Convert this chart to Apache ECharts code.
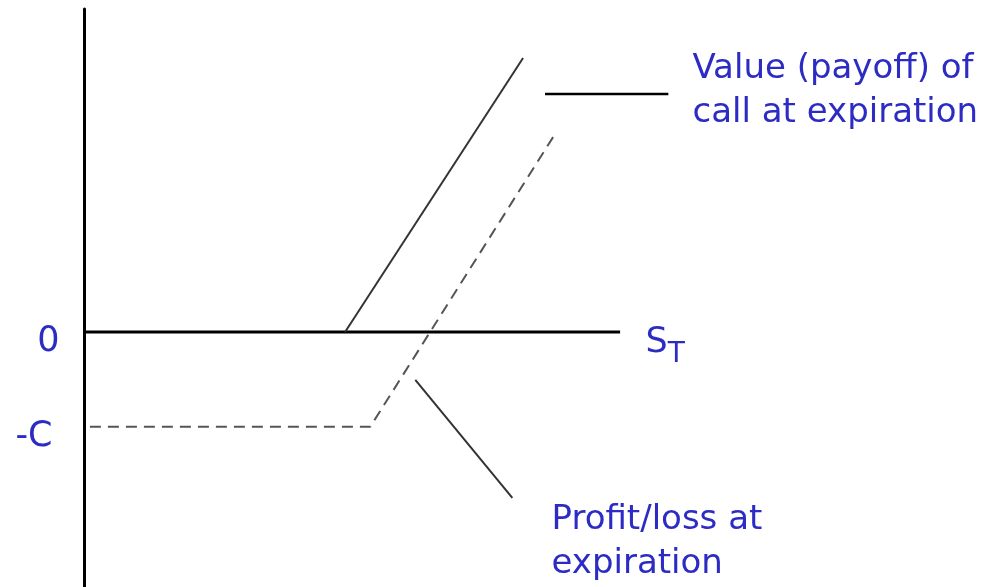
<!DOCTYPE html>
<html>
<head>
<meta charset="utf-8">
<script src="https://cdn.jsdelivr.net/npm/echarts@6/dist/echarts.min.js"></script>
<style>
  html, body { margin: 0; padding: 0; background: #fff; }
  #chart { width: 990px; height: 587px; }
</style>
</head>
<body>
<div id="chart"></div>
<script>
// stock price at expiration (x) and value (y)
const payoffS = [48.7, 81.9];
const payoffV = [0, 50.9];
const profitS = [1.1, 53.4, 87.5];
const profitV = [-17.6, -17.6, 36.2];

// horizontal S_T axis, drawn from 0 to its end
const stAxisS = [0, 100];
const stAxisV = [0, 0];

// leader lines pointing at the two curves
const payoffLeaderS = [86.0, 109.0];
const payoffLeaderV = [44.2, 44.2];
const profitLeaderS = [61.8, 79.9];
const profitLeaderV = [-8.9, -30.8];

// y labels: zero and minus the call premium
const yLabelValues = [0, -17.6];
const yLabelTexts = ['0', '-C'];

const payoffNote = 'Value (payoff) of\ncall at expiration';
const payoffNoteAt = [113.6, 52.9];
const profitNote = 'Profit/loss at\nexpiration';
const profitNoteAt = [87.3, -31.0];

const blue = '#2c2cc4';
const font = 'DejaVu Sans';

const pairs = (xs, ys) => xs.map((x, i) => [x, ys[i]]);
// invisible anchor points for text
const hidden = { color: 'rgba(0,0,0,0)', opacity: 1 };

const chart = echarts.init(document.getElementById('chart'));
chart.setOption({
  animation: false,
  backgroundColor: '#fff',
  grid: { left: 84, right: 0, top: 9, bottom: 0 },
  xAxis: {
    type: 'value', min: 0, max: 169,
    axisLine: { show: false },
    axisTick: { show: false }, axisLabel: { show: false }, splitLine: { show: false }
  },
  yAxis: {
    type: 'value', min: -47.37, max: 60,
    axisLine: { show: true, onZero: false, lineStyle: { color: '#000', width: 3 } },
    axisTick: { show: false }, axisLabel: { show: false }, splitLine: { show: false }
  },
  series: [
    {
      name: 'S_T axis', type: 'line', symbol: 'none',
      data: pairs(stAxisS, stAxisV),
      lineStyle: { color: '#000', width: 3 }
    },
    {
      name: 'payoff', type: 'line', symbol: 'none',
      data: pairs(payoffS, payoffV),
      lineStyle: { color: '#333', width: 2 }
    },
    {
      name: 'profit', type: 'line', symbol: 'none',
      data: pairs(profitS, profitV),
      lineStyle: { color: '#555', width: 2, type: [11, 7] }
    },
    {
      type: 'line', symbol: 'none',
      data: pairs(payoffLeaderS, payoffLeaderV),
      lineStyle: { color: '#000', width: 2.5 }
    },
    {
      type: 'line', symbol: 'none',
      data: pairs(profitLeaderS, profitLeaderV),
      lineStyle: { color: '#333', width: 2 }
    },
    {
      type: 'scatter', symbolSize: 1, itemStyle: hidden,
      data: yLabelValues.map((v, i) => ({
        value: [0, v],
        label: {
          show: true, formatter: yLabelTexts[i], position: 'left',
          distance: i === 0 ? 24 : 31, offset: [0, 10],
          fontFamily: font, fontSize: 35, color: blue
        }
      }))
    },
    {
      type: 'scatter', symbolSize: 1, itemStyle: hidden,
      data: [{
        value: [stAxisS[1], 0],
        label: {
          show: true, position: 'right', distance: 25,
          formatter: '{s|S}{t|T}',
          padding: [22, 0, 0, 0],
          rich: {
            s: { fontFamily: font, fontSize: 35, color: blue, lineHeight: 40 },
            t: { fontFamily: font, fontSize: 28, color: blue, lineHeight: 40, padding: [24, 0, 0, 0] }
          }
        }
      }]
    },
    {
      type: 'scatter', symbolSize: 1, itemStyle: hidden,
      label: {
        show: true, position: [0, 0], align: 'left', verticalAlign: 'top',
        fontFamily: font, fontSize: 34, lineHeight: 44, color: blue,
        formatter: p => p.data.text
      },
      data: [
        { value: payoffNoteAt, text: payoffNote },
        { value: profitNoteAt, text: profitNote }
      ]
    }
  ]
});
</script>
</body>
</html>
